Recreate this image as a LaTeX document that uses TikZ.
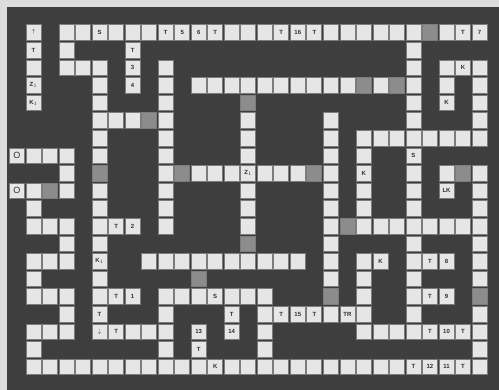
\documentclass[tikz,border=0pt]{standalone}
\usepackage{fontspec}
\setmainfont{Liberation Sans}
\definecolor{framecol}{HTML}{DCDCDC}
\definecolor{bgdark}{HTML}{3E3E3E}
\definecolor{celllight}{HTML}{E6E6E6}
\definecolor{celledge}{HTML}{7C7C7C}
\definecolor{hatchcol}{HTML}{8C8C8C}
\definecolor{labelcol}{HTML}{2E2E2E}
\tikzset{
  cellbox/.style={rectangle, minimum width=15pt, minimum height=15.6pt, inner sep=0pt,
    fill=celllight, draw=celledge, line width=0.7pt,
    font=\fontsize{6}{6}\selectfont\bfseries, text=labelcol},
  hatchbox/.style={cellbox, fill=hatchcol},
  bigo/.style={font=\fontsize{9}{9}\selectfont}
}
\newcommand\Run[3]{\foreach \cc in {#2,...,#3}{\node[cellbox] (n\cc-#1) at ({33.5+16.52*\cc},{32.5+17.6*#1}) {};}}
\newcommand\Lab[4][]{\node[cellbox,#1] (n#2-#3) at ({33.5+16.52*#2},{32.5+17.6*#3}) {#4};}
\newcommand\Hat[2]{\node[hatchbox] (n#1-#2) at ({33.5+16.52*#1},{32.5+17.6*#2}) {};}
\begin{document}
\begin{tikzpicture}[x=1pt,y=-1pt]
\useasboundingbox (0,0) rectangle (499,390);
\fill[framecol] (0,0) rectangle (499,390);
\fill[bgdark] (7,7) rectangle (499,390);
% row runs
\Run{0}{0}{0}\Run{0}{2}{27}
\Run{1}{0}{0}\Run{1}{2}{2}\Run{1}{6}{6}\Run{1}{23}{23}
\Run{2}{0}{0}\Run{2}{2}{4}\Run{2}{6}{6}\Run{2}{8}{8}\Run{2}{23}{23}\Run{2}{25}{27}
\Run{3}{0}{0}\Run{3}{4}{4}\Run{3}{6}{6}\Run{3}{8}{8}\Run{3}{10}{23}\Run{3}{25}{25}\Run{3}{27}{27}
\Run{4}{0}{0}\Run{4}{4}{4}\Run{4}{8}{8}\Run{4}{13}{13}\Run{4}{23}{23}\Run{4}{25}{25}\Run{4}{27}{27}
\Run{5}{4}{8}\Run{5}{13}{13}\Run{5}{18}{18}\Run{5}{23}{23}\Run{5}{27}{27}
\Run{6}{4}{4}\Run{6}{8}{8}\Run{6}{13}{13}\Run{6}{18}{18}\Run{6}{20}{27}
\Run{7}{-1}{2}\Run{7}{4}{4}\Run{7}{8}{8}\Run{7}{13}{13}\Run{7}{18}{18}\Run{7}{20}{20}\Run{7}{23}{23}
\Run{8}{2}{2}\Run{8}{4}{4}\Run{8}{8}{18}\Run{8}{20}{20}\Run{8}{23}{23}\Run{8}{25}{27}
\Run{9}{-1}{2}\Run{9}{4}{4}\Run{9}{8}{8}\Run{9}{13}{13}\Run{9}{18}{18}\Run{9}{20}{20}\Run{9}{23}{23}\Run{9}{25}{25}\Run{9}{27}{27}
\Run{10}{0}{0}\Run{10}{4}{4}\Run{10}{8}{8}\Run{10}{13}{13}\Run{10}{18}{18}\Run{10}{20}{20}\Run{10}{23}{23}\Run{10}{27}{27}
\Run{11}{0}{2}\Run{11}{4}{6}\Run{11}{8}{8}\Run{11}{13}{13}\Run{11}{18}{27}
\Run{12}{2}{2}\Run{12}{4}{4}\Run{12}{13}{13}\Run{12}{18}{18}\Run{12}{23}{23}\Run{12}{27}{27}
\Run{13}{0}{2}\Run{13}{4}{4}\Run{13}{7}{16}\Run{13}{18}{18}\Run{13}{20}{21}\Run{13}{23}{25}\Run{13}{27}{27}
\Run{14}{0}{0}\Run{14}{4}{4}\Run{14}{10}{10}\Run{14}{18}{18}\Run{14}{20}{20}\Run{14}{23}{23}\Run{14}{27}{27}
\Run{15}{0}{2}\Run{15}{4}{6}\Run{15}{8}{14}\Run{15}{18}{18}\Run{15}{20}{20}\Run{15}{23}{25}\Run{15}{27}{27}
\Run{16}{2}{2}\Run{16}{4}{4}\Run{16}{8}{8}\Run{16}{12}{12}\Run{16}{14}{20}\Run{16}{23}{23}\Run{16}{27}{27}
\Run{17}{0}{2}\Run{17}{4}{8}\Run{17}{10}{10}\Run{17}{12}{12}\Run{17}{14}{14}\Run{17}{20}{27}
\Run{18}{0}{0}\Run{18}{8}{8}\Run{18}{10}{10}\Run{18}{14}{14}\Run{18}{27}{27}
\Run{19}{0}{27}
% hatched cells
\Hat{24}{0}\Hat{20}{3}\Hat{22}{3}\Hat{13}{4}\Hat{7}{5}
\Hat{4}{8}\Hat{9}{8}\Hat{17}{8}\Hat{26}{8}\Hat{1}{9}\Hat{19}{11}
\Hat{13}{12}\Hat{10}{14}\Hat{18}{15}\Hat{27}{15}
% labelled cells
\Lab{0}{0}{$\uparrow$}\Lab{4}{0}{S}\Lab{8}{0}{T}\Lab{9}{0}{5}\Lab{10}{0}{6}\Lab{11}{0}{T}
\Lab{15}{0}{T}\Lab{16}{0}{16}\Lab{17}{0}{T}\Lab{26}{0}{T}\Lab{27}{0}{7}
\Lab{0}{1}{T}\Lab{6}{1}{T}
\Lab{6}{2}{3}\Lab{26}{2}{K}
\Lab{0}{3}{Z$_1$}\Lab{6}{3}{4}
\Lab{0}{4}{K$_1$}\Lab{25}{4}{K}
\Lab[bigo]{-1}{7}{O}\Lab{23}{7}{S}
\Lab{13}{8}{Z$_1$}\Lab{20}{8}{K}
\Lab[bigo]{-1}{9}{O}\Lab{25}{9}{LK}
\Lab{5}{11}{T}\Lab{6}{11}{2}
\Lab{4}{13}{K$_1$}\Lab{21}{13}{K}\Lab{24}{13}{T}\Lab{25}{13}{8}
\Lab{5}{15}{T}\Lab{6}{15}{1}\Lab{11}{15}{S}\Lab{24}{15}{T}\Lab{25}{15}{9}
\Lab{4}{16}{T}\Lab{12}{16}{T}\Lab{15}{16}{T}\Lab{16}{16}{15}\Lab{17}{16}{T}\Lab{19}{16}{TR}
\Lab{4}{17}{$\downarrow$}\Lab{5}{17}{T}\Lab{10}{17}{13}\Lab{12}{17}{14}\Lab{24}{17}{T}\Lab{25}{17}{10}\Lab{26}{17}{T}
\Lab{10}{18}{T}
\Lab{11}{19}{K}\Lab{23}{19}{T}\Lab{24}{19}{12}\Lab{25}{19}{11}\Lab{26}{19}{T}
\end{tikzpicture}
\end{document}
